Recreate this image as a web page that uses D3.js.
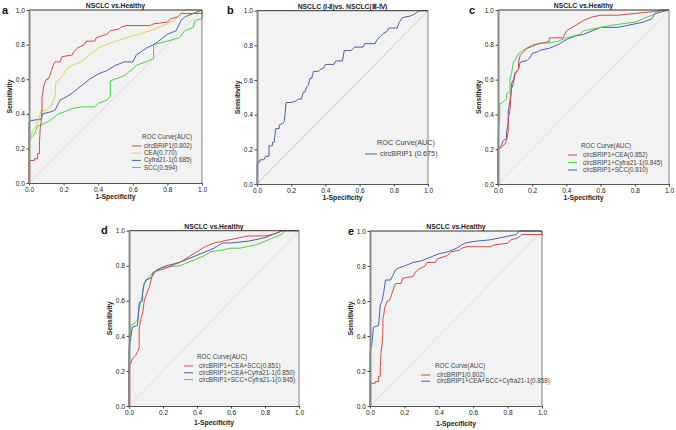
<!DOCTYPE html>
<html><head><meta charset="utf-8">
<script src="https://cdn.jsdelivr.net/npm/d3@7"></script>
<style>body{margin:0;background:#fff}svg{display:block}text{font-family:"Liberation Sans",Arial,sans-serif}</style>
</head><body>
<svg id="c" width="676" height="430"></svg>
<script>
// ---- data (FPR, TPR) ----
const ticks = [0, 0.2, 0.4, 0.6, 0.8, 1.0];
const circBRIP1 = [[0,0],[0,0.13],[0.03,0.13],[0.03,0.14],[0.05,0.14],[0.05,0.17],[0.06,0.17],[0.06,0.22],[0.065,0.32],[0.07,0.35],[0.075,0.42],[0.075,0.5],[0.08,0.52],[0.085,0.56],[0.1,0.6],[0.11,0.6],[0.12,0.62],[0.13,0.65],[0.14,0.68],[0.15,0.7],[0.18,0.7],[0.19,0.73],[0.25,0.74],[0.26,0.76],[0.28,0.78],[0.32,0.8],[0.33,0.82],[0.38,0.82],[0.39,0.84],[0.42,0.85],[0.45,0.86],[0.47,0.88],[0.52,0.89],[0.53,0.9],[0.56,0.91],[0.7,0.91],[0.72,0.92],[0.8,0.93],[0.82,0.95],[0.86,0.96],[0.88,0.98],[1,0.98],[1,1]];
const cea = [[0,0],[0,0.24],[0.01,0.25],[0.02,0.3],[0.04,0.33],[0.06,0.38],[0.07,0.42],[0.1,0.42],[0.13,0.45],[0.15,0.5],[0.155,0.58],[0.17,0.59],[0.2,0.63],[0.22,0.66],[0.25,0.68],[0.3,0.7],[0.35,0.74],[0.4,0.78],[0.5,0.82],[0.6,0.85],[0.7,0.88],[0.8,0.92],[0.85,0.95],[0.88,0.98],[0.9,1],[1,1]];
const cyfra = [[0,0],[0,0.35],[0.01,0.36],[0.07,0.37],[0.08,0.4],[0.12,0.41],[0.15,0.42],[0.18,0.48],[0.22,0.5],[0.25,0.52],[0.3,0.56],[0.35,0.6],[0.4,0.63],[0.45,0.65],[0.5,0.68],[0.55,0.7],[0.6,0.7],[0.62,0.74],[0.68,0.78],[0.72,0.8],[0.75,0.82],[0.8,0.86],[0.85,0.88],[0.88,0.94],[0.9,0.96],[0.95,0.98],[1,1]];
const scc = [[0,0],[0,0.12],[0,0.25],[0.01,0.26],[0.03,0.28],[0.05,0.33],[0.08,0.34],[0.12,0.36],[0.17,0.4],[0.2,0.41],[0.25,0.43],[0.3,0.44],[0.38,0.44],[0.4,0.46],[0.45,0.48],[0.47,0.5],[0.47,0.59],[0.55,0.62],[0.6,0.66],[0.62,0.68],[0.7,0.71],[0.72,0.72],[0.72,0.8],[0.8,0.82],[0.87,0.84],[0.9,0.88],[0.95,0.9],[0.96,0.94],[1,0.95],[1,1]];
const stageCirc = [[0,0],[0,0.12],[0.01,0.12],[0.02,0.14],[0.04,0.14],[0.05,0.16],[0.07,0.16],[0.07,0.22],[0.09,0.22],[0.09,0.24],[0.1,0.24],[0.11,0.32],[0.13,0.32],[0.13,0.34],[0.15,0.35],[0.16,0.36],[0.17,0.47],[0.2,0.47],[0.23,0.48],[0.24,0.49],[0.26,0.49],[0.27,0.53],[0.28,0.53],[0.29,0.56],[0.3,0.57],[0.31,0.61],[0.32,0.61],[0.33,0.65],[0.36,0.65],[0.37,0.66],[0.39,0.67],[0.4,0.69],[0.45,0.69],[0.46,0.71],[0.5,0.71],[0.51,0.77],[0.55,0.77],[0.57,0.79],[0.62,0.79],[0.63,0.81],[0.69,0.81],[0.7,0.83],[0.72,0.85],[0.74,0.87],[0.76,0.88],[0.77,0.9],[0.82,0.9],[0.83,0.93],[0.85,0.96],[0.9,0.97],[0.92,0.98],[0.95,1],[1,1]];
const circCEA = [[0,0],[0,0.2],[0.02,0.21],[0.04,0.23],[0.05,0.25],[0.06,0.3],[0.06,0.38],[0.07,0.42],[0.075,0.5],[0.08,0.58],[0.09,0.6],[0.1,0.64],[0.12,0.66],[0.12,0.7],[0.13,0.74],[0.15,0.76],[0.17,0.78],[0.2,0.79],[0.22,0.8],[0.3,0.82],[0.3,0.84],[0.38,0.84],[0.4,0.88],[0.45,0.91],[0.5,0.94],[0.55,0.96],[0.6,0.97],[0.7,0.97],[0.8,0.98],[0.9,0.99],[0.95,1],[1,1]];
const circCyfra = [[0,0],[0,0.3],[0.01,0.38],[0.01,0.46],[0.03,0.47],[0.05,0.49],[0.05,0.52],[0.07,0.53],[0.07,0.6],[0.08,0.64],[0.09,0.7],[0.1,0.71],[0.12,0.75],[0.15,0.77],[0.2,0.8],[0.25,0.81],[0.3,0.81],[0.35,0.82],[0.4,0.84],[0.48,0.86],[0.5,0.88],[0.55,0.89],[0.6,0.9],[0.65,0.91],[0.72,0.92],[0.8,0.93],[0.85,0.95],[0.9,0.97],[0.93,0.99],[1,1]];
const circSCC = [[0,0],[0,0.2],[0.02,0.22],[0.03,0.25],[0.05,0.26],[0.05,0.3],[0.06,0.35],[0.06,0.42],[0.07,0.48],[0.08,0.55],[0.09,0.58],[0.1,0.63],[0.12,0.66],[0.13,0.7],[0.17,0.71],[0.19,0.73],[0.2,0.75],[0.23,0.76],[0.25,0.77],[0.3,0.78],[0.35,0.8],[0.4,0.83],[0.45,0.85],[0.5,0.86],[0.55,0.88],[0.6,0.9],[0.7,0.9],[0.8,0.92],[0.85,0.93],[0.9,0.95],[0.92,0.98],[1,1]];
const circCEASCC = [[0,0],[0,0.24],[0.01,0.24],[0.02,0.27],[0.04,0.29],[0.05,0.31],[0.06,0.33],[0.06,0.44],[0.07,0.5],[0.08,0.53],[0.09,0.6],[0.1,0.63],[0.12,0.68],[0.13,0.72],[0.14,0.76],[0.16,0.77],[0.2,0.78],[0.25,0.8],[0.3,0.82],[0.35,0.85],[0.4,0.88],[0.45,0.91],[0.5,0.93],[0.55,0.94],[0.6,0.95],[0.7,0.97],[0.8,0.97],[0.85,0.98],[0.9,1],[1,1]];
const circCEACyfra = [[0,0],[0,0.34],[0.01,0.39],[0.02,0.45],[0.05,0.46],[0.06,0.59],[0.08,0.6],[0.08,0.65],[0.09,0.7],[0.1,0.72],[0.13,0.73],[0.15,0.76],[0.17,0.78],[0.22,0.8],[0.3,0.82],[0.35,0.84],[0.4,0.86],[0.45,0.88],[0.5,0.9],[0.55,0.93],[0.6,0.93],[0.7,0.94],[0.8,0.96],[0.85,0.98],[0.88,0.99],[0.9,1],[1,1]];
const circSCCCyfra = [[0,0],[0,0.31],[0.01,0.38],[0.01,0.46],[0.03,0.47],[0.05,0.49],[0.06,0.55],[0.07,0.6],[0.08,0.64],[0.09,0.7],[0.1,0.71],[0.12,0.74],[0.15,0.77],[0.2,0.79],[0.3,0.8],[0.4,0.84],[0.45,0.86],[0.48,0.88],[0.55,0.89],[0.6,0.9],[0.65,0.9],[0.7,0.91],[0.75,0.92],[0.8,0.94],[0.85,0.96],[0.9,0.98],[0.92,1],[1,1]];
const circAll = [[0,0],[0,0.31],[0.01,0.35],[0.02,0.45],[0.05,0.46],[0.06,0.58],[0.07,0.6],[0.08,0.65],[0.09,0.72],[0.12,0.72],[0.13,0.74],[0.15,0.78],[0.17,0.79],[0.2,0.8],[0.25,0.82],[0.3,0.83],[0.35,0.85],[0.4,0.87],[0.45,0.88],[0.5,0.9],[0.55,0.93],[0.6,0.94],[0.7,0.95],[0.8,0.97],[0.85,0.98],[0.87,1],[1,1]];

const RED="#d24b4b", YEL="#d9d45c", BLU="#4c5fa9", GRN="#4fce4f";

const panels = [
 {lab:"a", lx:2, title:"NSCLC vs.Healthy", x:29, y:10, w:173, h:173, diag:"solid", tOff:16,
  legend:{x:132, y:137, tx:144, dy:7.2, fs:6.3},
  series:[{n:"circBRIP1(0.802)",d:circBRIP1,c:RED},{n:"CEA(0.770)",d:cea,c:YEL},{n:"Cyfra21-1(0.685)",d:cyfra,c:BLU},{n:"SCC(0.594)",d:scc,c:GRN}]},
 {lab:"b", lx:227, title:"NSCLC (Ⅰ-Ⅱ)vs. NSCLC(Ⅲ-Ⅳ)", x:257, y:10.7, w:171, h:173.3, diag:"dot", tOff:16,
  legend:{x:365, y:143, tx:380, dy:8, fs:7.3, lw:12},
  series:[{n:"circBRIP1 (0.675)",d:stageCirc,c:BLU}]},
 {lab:"c", lx:469, title:"NSCLC vs.Healthy", x:498, y:10, w:171, h:174, diag:"solid", tOff:16,
  legend:{x:568, y:146, tx:583, dy:7.5, fs:6.3},
  series:[{n:"circBRIP1+CEA(0.852)",d:circCEA,c:RED},{n:"circBRIP1+Cyfra21-1(0.845)",d:circCyfra,c:GRN},{n:"circBRIP1+SCC(0.810)",d:circSCC,c:BLU}]},
 {lab:"d", lx:101, title:"NSCLC vs.Healthy", x:129, y:230.7, w:170, h:175.3, diag:"solid", tOff:19.5,
  legend:{x:184, y:357, tx:199, dy:6.8, fs:6.3},
  series:[{n:"circBRIP1+CEA+SCC(0.851)",d:circCEASCC,c:RED},{n:"circBRIP1+CEA+Cyfra21-1(0.850)",d:circCEACyfra,c:BLU},{n:"circBRIP1+SCC+Cyfra21-1(0.845)",d:circSCCCyfra,c:GRN}]},
 {lab:"e", lx:348, title:"NSCLC vs.Healthy", x:370, y:231, w:172, h:175, diag:"solid", tOff:19.5,
  legend:{x:421, y:366, tx:437, dy:6.2, fs:6.3},
  series:[{n:"circBRIP1(0.802)",d:circBRIP1,c:RED},{n:"circBRIP1+CEA+SCC+Cyfra21-1(0.858)",d:circAll,c:BLU}]}
];

const svg = d3.select("#c");
panels.forEach(p => {
  const g = svg.append("g").attr("transform", `translate(${p.x},${p.y})`);
  const xs = d3.scaleLinear().domain([0,1]).range([0,p.w]);
  const ys = d3.scaleLinear().domain([0,1]).range([p.h,0]);
  g.append("rect").attr("width",p.w).attr("height",p.h).attr("fill","#f2f2f2");
  const dl = g.append("line").attr("x1",xs(0)).attr("y1",ys(0)).attr("x2",xs(1)).attr("y2",ys(1));
  if (p.diag==="dot") dl.attr("stroke","#777").attr("stroke-width",0.8).attr("stroke-dasharray","1.2,1.6");
  else dl.attr("stroke","#d6d6d6").attr("stroke-width",0.8);
  const line = d3.line().x(d=>xs(d[0])).y(d=>ys(d[1]));
  p.series.slice().reverse().forEach(s => {
    g.append("path").attr("d",line(s.d)).attr("fill","none").attr("stroke",s.c).attr("stroke-width",1);
  });
  g.append("line").attr("x1",0).attr("x2",p.w).attr("y1",0).attr("y2",0).attr("stroke","#333").attr("stroke-width",1);
  g.append("line").attr("x1",p.w).attr("x2",p.w).attr("y1",0).attr("y2",p.h).attr("stroke","#666").attr("stroke-width",0.8);
  const xa = g.append("g").attr("transform",`translate(0,${p.h})`)
    .call(d3.axisBottom(xs).tickValues(ticks).tickFormat(d3.format(".1f")).tickSize(2.5).tickPadding(2).tickSizeOuter(0));
  const ya = g.append("g")
    .call(d3.axisLeft(ys).tickValues(ticks).tickFormat(d3.format(".1f")).tickSize(2.5).tickPadding(1.5).tickSizeOuter(0));
  [xa,ya].forEach(a=>{
    a.select(".domain").attr("stroke","#555").attr("stroke-width",1.2);
    a.selectAll(".tick line").attr("stroke","#444");
    a.selectAll("text").attr("font-size",6.6).attr("fill","#222").style("font-family","Liberation Sans, Arial, sans-serif");
  });
  ya.select(".domain").attr("stroke","#8a8a8a").attr("stroke-width",2);
  g.append("text").attr("x",p.w/2).attr("y",p.h+p.tOff).attr("text-anchor","middle")
    .attr("font-size",6.8).attr("font-weight","bold").attr("fill","#222").text("1-Specificity");
  g.append("text").attr("transform",`translate(-17,${p.h/2}) rotate(-90)`).attr("text-anchor","middle")
    .attr("font-size",6.8).attr("font-weight","bold").attr("fill","#222").text("Sensitivity");
  g.append("text").attr("x",p.w/2).attr("y",-2).attr("text-anchor","middle")
    .attr("font-size",6.8).attr("font-weight","bold").attr("fill","#222").text(p.title);
  svg.append("text").attr("x",p.lx).attr("y",p.y+3.5).attr("font-size",11).attr("font-weight","bold").attr("fill","#111").text(p.lab);
  const L = p.legend, lw = L.lw||9;
  const lg = svg.append("g");
  lg.append("text").attr("x",L.tx + (p.lab==="b"?-3:-2)).attr("y",L.y+2).attr("font-size",L.fs).attr("fill","#444").text("ROC Curve(AUC)");
  p.series.forEach((s,i)=>{
    const yy = L.y + 9 + i*L.dy + (p.lab==="b"?2:0);
    lg.append("line").attr("x1",L.x).attr("x2",L.x+lw).attr("y1",yy).attr("y2",yy).attr("stroke",s.c).attr("stroke-width",1);
    lg.append("text").attr("x",L.tx).attr("y",yy+2).attr("font-size",L.fs).attr("fill","#444").text(s.n);
  });
});
</script>
</body></html>
